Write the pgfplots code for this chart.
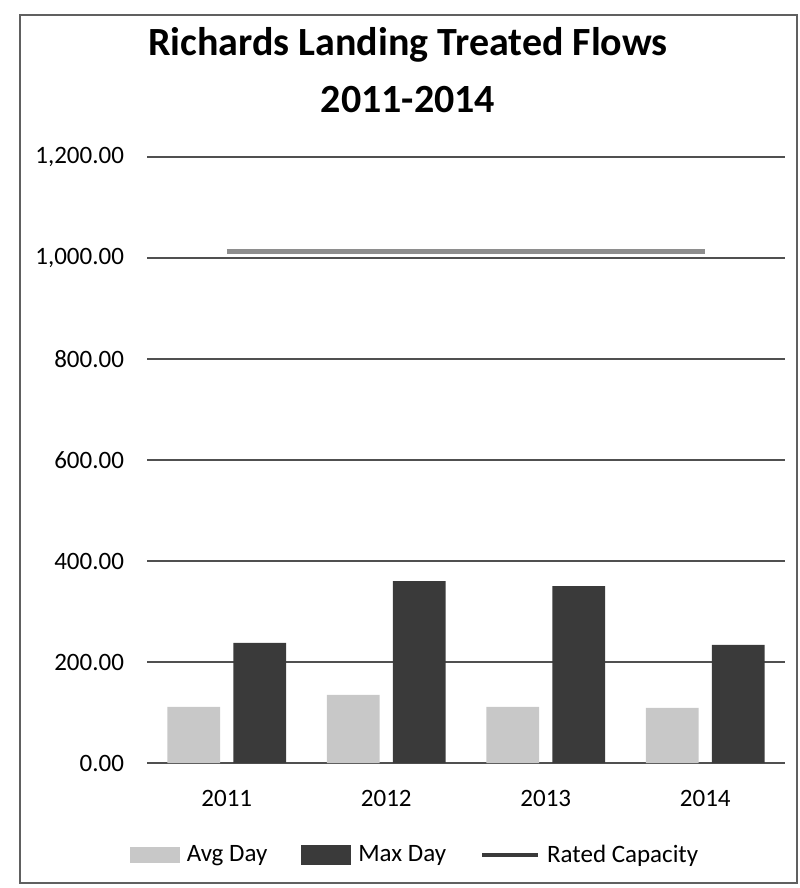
\documentclass[border=0pt]{standalone}
\usepackage{pgfplots}
\pgfplotsset{compat=1.18}
\usepackage{fontspec}
\setmainfont{Carlito}
\definecolor{avgc}{HTML}{C8C8C8}
\definecolor{maxc}{HTML}{3A3A3A}
\definecolor{ratc}{HTML}{8E8E8E}
\definecolor{gridc}{HTML}{505050}
\definecolor{framec}{HTML}{606060}
\begin{document}
\begin{tikzpicture}[x=1pt,y=1pt]
\path[use as bounding box] (0,0) rectangle (399.5,444);
\draw[line width=1.2pt, color=framec] (10,2.5) rectangle (398.5,436.5);
\node[font=\bfseries\fontsize{20}{24}\selectfont] at (204,421.5) {Richards Landing Treated Flows};
\node[font=\bfseries\fontsize{20}{24}\selectfont] at (204,394) {2011-2014};
\begin{axis}[
  at={(73.5pt,62.5pt)}, anchor=south west,
  scale only axis, width=319pt, height=303pt,
  xmin=-0.5, xmax=3.5, ymin=0, ymax=1200,
  ytick={0,200,...,1200},
  xtick={0,1,2,3}, xticklabels={2011,2012,2013,2014},
  axis line style={draw=none},
  major tick style={draw=none},
  ymajorgrids, grid style={gridc, line width=0.8pt},
  /pgf/number format/.cd, fixed, fixed zerofill, precision=2, 1000 sep={,}, assume math mode=true,
  /pgfplots/.cd,
  yticklabel style={xshift=-8pt, font=\fontsize{12.5}{15}\selectfont},
  xticklabel style={yshift=-10pt, font=\fontsize{12.5}{15}\selectfont},
  legend style={at={(axis description cs:0.4216,-0.1518)}, anchor=center, draw=none, fill=none,
    font=\fontsize{12.5}{15}\selectfont,
    /tikz/every even column/.append style={column sep=15pt},
    /tikz/every odd column/.append style={column sep=1.5pt}},
  legend columns=3,
]
\addplot[ybar, bar width=0.33, bar shift=-0.207, fill=avgc, draw=none,
  legend image code/.code={\fill[avgc] (0pt,-4pt) rectangle (25pt,4pt);}]
  coordinates {(0,111) (1,135) (2,111) (3,109)};
\addlegendentry{Avg Day}
\addplot[ybar, bar width=0.33, bar shift=0.207, fill=maxc, draw=none,
  legend image code/.code={\fill[maxc] (0pt,-5pt) rectangle (25pt,5pt);}]
  coordinates {(0,238) (1,360) (2,350) (3,234)};
\addlegendentry{Max Day}
\addplot[sharp plot, no marks, line width=2.5pt, color=ratc,
  legend image code/.code={\draw[line width=2pt, color=maxc] (0pt,0pt) -- (28pt,0pt);}]
  coordinates {(0,1012) (3,1012)};
\addlegendentry{Rated Capacity}
\end{axis}
\end{tikzpicture}
\end{document}
